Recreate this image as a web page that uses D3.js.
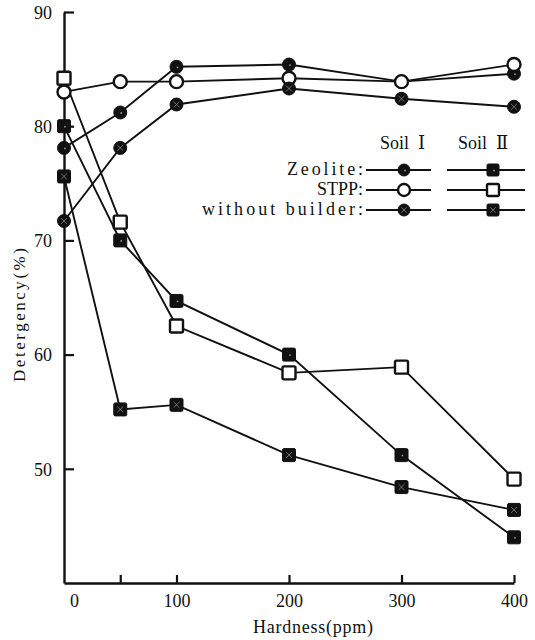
<!DOCTYPE html>
<html>
<head>
<meta charset="utf-8">
<script src="https://cdn.jsdelivr.net/npm/d3@7/dist/d3.min.js"></script>
<style>
  html, body { margin: 0; padding: 0; background: #fff; }
  svg { display: block; }
</style>
</head>
<body>
<svg id="chart" width="535" height="640" font-family="'Liberation Serif', 'Times New Roman', 'DejaVu Serif', serif"></svg>
<script>
// Hardness of wash water (ppm)
const hardness = [0, 50, 100, 200, 300, 400];

// Detergency (%) — Soil I (circles)
const soil1Zeolite = [78.1, 81.2, 85.2, 85.4, 83.9, 84.6];
const soil1STPP    = [83.0, 83.9, 83.9, 84.2, 83.9, 85.4];
const soil1None    = [71.7, 78.1, 81.9, 83.3, 82.4, 81.7];

// Detergency (%) — Soil II (squares)
const soil2Zeolite = [80.0, 70.0, 64.7, 60.0, 51.2, 44.0];
const soil2STPP    = [84.2, 71.6, 62.5, 58.4, 58.9, 49.1];
const soil2None    = [75.6, 55.2, 55.6, 51.2, 48.4, 46.4];

const builders = ["Zeolite", "STPP", "without builder"];
const builderLabels = ["Zeolite:", "STPP:", "without builder:"];
const soilLabels = ["Soil  \u2160", "Soil  \u2161"];

const xTicks = [0, 50, 100, 200, 300, 400];
const xTickLabels = ["0", "", "100", "200", "300", "400"];
const yTicks = [50, 60, 70, 80, 90];

const series = [
  { soil: 1, builder: "Zeolite", values: soil1Zeolite },
  { soil: 1, builder: "STPP", values: soil1STPP },
  { soil: 1, builder: "without builder", values: soil1None },
  { soil: 2, builder: "Zeolite", values: soil2Zeolite },
  { soil: 2, builder: "STPP", values: soil2STPP },
  { soil: 2, builder: "without builder", values: soil2None }
];

const FONT = "'Liberation Serif', 'Times New Roman', 'DejaVu Serif', serif";
const svg = d3.select("#chart");

const x = d3.scaleLinear().domain([0, 400]).range([64, 514]);
const y = d3.scaleLinear().domain([40, 90]).range([583, 12]);

// ---- axes ----
const yAxis = d3.axisLeft(y)
  .tickValues(yTicks)
  .tickSizeInner(-10)
  .tickSizeOuter(0)
  .tickPadding(12)
  .tickFormat(d3.format("d"));

const gy = svg.append("g").attr("transform", `translate(${x(0)},0)`).call(yAxis);
gy.attr("font-family", FONT);
gy.select(".domain").attr("stroke", "#111").attr("stroke-width", 2.4);
gy.selectAll(".tick line").attr("stroke", "#111").attr("stroke-width", 2.2);
gy.selectAll(".tick text").attr("font-size", 18).attr("fill", "#111").attr("dy", "0.35em");

const xAxis = d3.axisBottom(x)
  .tickValues(xTicks)
  .tickSizeInner(-8)
  .tickSizeOuter(0)
  .tickPadding(11)
  .tickFormat((d, i) => xTickLabels[i]);

const gx = svg.append("g").attr("transform", `translate(0,${y(40)})`).call(xAxis);
gx.attr("font-family", FONT);
gx.select(".domain").attr("stroke", "#111").attr("stroke-width", 2.4);
gx.selectAll(".tick line").attr("stroke", "#111").attr("stroke-width", 2.2)
  .attr("display", d => d === 0 ? "none" : null);
gx.selectAll(".tick text").attr("font-size", 18).attr("fill", "#111")
  .attr("dx", d => d === 0 ? 10 : 0);

// axis titles
svg.append("text")
  .attr("x", (x(0) + x(400)) / 2 + 24)
  .attr("y", 633)
  .attr("text-anchor", "middle")
  .attr("font-family", FONT)
  .attr("font-size", 18)
  .attr("fill", "#111")
  .attr("textLength", 120)
  .attr("lengthAdjust", "spacing")
  .text("Hardness(ppm)");

svg.append("text")
  .attr("transform", "translate(25,315) rotate(-90)")
  .attr("text-anchor", "middle")
  .attr("font-family", FONT)
  .attr("font-size", 17)
  .attr("fill", "#111")
  .attr("textLength", 134)
  .attr("lengthAdjust", "spacing")
  .text("Detergency(%)");

// ---- markers ----
function drawMarker(g, soil, builder, size) {
  const r = size / 2;
  const filled = builder !== "STPP";
  if (soil === 1) {
    g.append("circle").attr("r", r)
      .attr("fill", filled ? "#111" : "#fff")
      .attr("stroke", "#111").attr("stroke-width", filled ? 1 : 2.4);
  } else {
    g.append("rect").attr("x", -r).attr("y", -r).attr("width", size).attr("height", size)
      .attr("rx", 1.5)
      .attr("fill", filled ? "#111" : "#fff")
      .attr("stroke", "#111").attr("stroke-width", filled ? 1 : 2.4);
  }
  if (builder === "Zeolite") {
    g.append("circle").attr("cx", 1).attr("cy", 0.5).attr("r", 0.9).attr("fill", "#999");
  } else if (builder === "without builder") {
    const k = r * 0.45;
    g.append("path")
      .attr("d", `M${-k},${-k}L${k},${k}M${-k},${k}L${k},${-k}`)
      .attr("stroke", "#888").attr("stroke-width", 0.8);
  }
}

// ---- lines ----
const line = d3.line()
  .x((d, i) => x(hardness[i]))
  .y(d => y(d));

const plot = svg.append("g");
plot.selectAll("path.series")
  .data(series)
  .join("path")
  .attr("class", "series")
  .attr("d", s => line(s.values))
  .attr("fill", "none")
  .attr("stroke", "#111")
  .attr("stroke-width", 1.9);

series.forEach(s => {
  s.values.forEach((v, i) => {
    const g = plot.append("g").attr("transform", `translate(${x(hardness[i])},${y(v)})`);
    drawMarker(g, s.soil, s.builder, 13);
  });
});

// ---- legend ----
const legend = svg.append("g").attr("font-family", FONT);
const colX = [404, 493];
const headX = [380, 458];
const segX = [[366, 431], [447, 525]];
const rowY = [170, 190, 210];
const labelWidths = [76, 46, 161];

legend.selectAll("text.soil")
  .data(soilLabels)
  .join("text")
  .attr("class", "soil")
  .attr("x", (d, i) => headX[i])
  .attr("y", 149)
  .attr("font-size", 18)
  .attr("fill", "#111")
  .attr("xml:space", "preserve")
  .style("white-space", "pre")
  .text(d => d);

builders.forEach((b, row) => {
  legend.append("text")
    .attr("x", 363)
    .attr("y", rowY[row] + 5)
    .attr("text-anchor", "end")
    .attr("font-size", 18)
    .attr("fill", "#111")
    .attr("textLength", labelWidths[row])
    .attr("lengthAdjust", "spacing")
    .text(builderLabels[row]);
  [1, 2].forEach((soil, c) => {
    legend.append("line")
      .attr("x1", segX[c][0]).attr("x2", segX[c][1])
      .attr("y1", rowY[row]).attr("y2", rowY[row])
      .attr("stroke", "#111").attr("stroke-width", 1.9);
    const g = legend.append("g").attr("transform", `translate(${colX[c]},${rowY[row]})`);
    drawMarker(g, soil, b, 12);
  });
});
</script>
</body>
</html>
